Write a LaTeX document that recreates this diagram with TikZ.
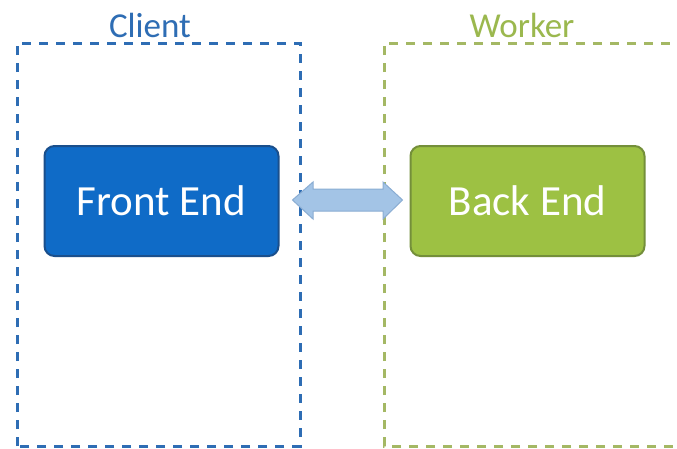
\documentclass[tikz,border=0pt]{standalone}
\usepackage{fontspec}
\setmainfont{Carlito}
\definecolor{clientblue}{HTML}{2E6DB4}
\definecolor{workergreen}{HTML}{A4B864}
\definecolor{workertext}{HTML}{9BB84E}
\definecolor{frontfill}{HTML}{0F6BC7}
\definecolor{frontdraw}{HTML}{1A4F8C}
\definecolor{backfill}{HTML}{9DC143}
\definecolor{backdraw}{HTML}{748F3A}
\definecolor{arrowfill}{HTML}{A3C4E6}
\definecolor{arrowdraw}{HTML}{8AADD3}
\tikzset{
  tier/.style={line width=3pt, dash pattern=on 9pt off 8pt},
  tierlabel/.style={font=\fontsize{35}{40}\selectfont, anchor=base, inner sep=0pt},
  endbox/.style={rounded corners=10pt, line width=2pt, minimum width=234pt,
    minimum height=110pt, text=white, font=\fontsize{43}{50}\selectfont},
}
\begin{document}
\begin{tikzpicture}[x=1pt,y=-1pt]
  \useasboundingbox (0,0) rectangle (677,448);
  \clip (0,0) rectangle (677,448);
  \fill[white] (0,0) rectangle (677,448);

  % dashed tier frames
  \draw[tier, clientblue] (17,446) -- (17,43) -- (300,43) -- (300,446) -- cycle;
  \draw[tier, workergreen] (690,446) -- (384,446) -- (384,43) -- (690,43);

  % tier titles
  \node[tierlabel, text=clientblue] (client) at (150,37) {Client};
  \node[tierlabel, text=workertext] (worker) at (522,37) {Worker};

  % end boxes
  \node[endbox, fill=frontfill, draw=frontdraw] (front) at (161.5,201) {Front End};
  \node[endbox, fill=backfill, draw=backdraw] (back) at (527.5,201) {Back End};

  % two-way link between the ends
  \coordinate (ltip) at ([xshift=13pt]front.east);
  \coordinate (rtip) at ([xshift=-7pt]back.west);
  \draw[fill=arrowfill, draw=arrowdraw, line width=1pt, line join=miter]
    (ltip |- 0,200) -- (313,182) -- (313,189) -- (383,189) -- (383,182)
    -- (rtip |- 0,200) -- (383,219) -- (383,211) -- (313,211) -- (313,219) -- cycle;
\end{tikzpicture}
\end{document}
